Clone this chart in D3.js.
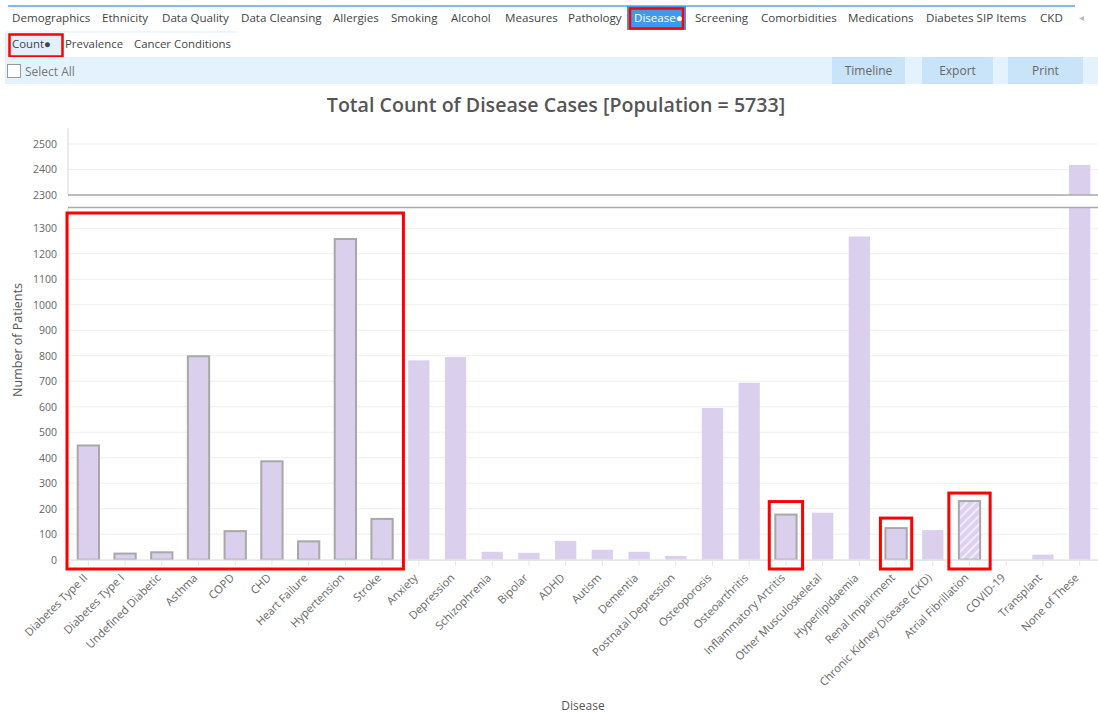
<!DOCTYPE html>
<html><head><meta charset="utf-8">
<script src="https://cdn.jsdelivr.net/npm/d3@7"></script>
<style>
html,body{margin:0;padding:0;background:#fff;}
svg{display:block;font-family:"Open Sans",sans-serif;}
</style></head><body>
<svg id="c" width="1098" height="713"></svg>
<script>
// ---- data ----
const categories = ["Diabetes Type II","Diabetes Type I","Undefined Diabetic","Asthma","COPD","CHD","Heart Failure","Hypertension","Stroke","Anxiety","Depression","Schizophrenia","Bipolar","ADHD","Autism","Dementia","Postnatal Depression","Osteoporosis","Osteoarthritis","Inflammatory Artritis","Other Musculoskeletal","Hyperlipidaemia","Renal Impairment","Chronic Kidney Disease (CKD)","Atrial Fibrillation","COVID-19","Transplant","None of These"];
const counts = [448,24,29,798,112,386,72,1258,160,782,795,31,27,74,39,31,15,595,694,177,184,1268,124,116,230,0,20,2418];
const outlined = ["Diabetes Type II","Diabetes Type I","Undefined Diabetic","Asthma","COPD","CHD","Heart Failure","Hypertension","Stroke","Inflammatory Artritis","Renal Impairment","Atrial Fibrillation"];
const hatched = ["Atrial Fibrillation"];
const lowerTicks = [0,100,200,300,400,500,600,700,800,900,1000,1100,1200,1300];
const upperTicks = [2300,2400,2500];
const lowerDomain = [0,1380];
const upperDomain = [2300,2562];
const navItems = ["Demographics","Ethnicity","Data Quality","Data Cleansing","Allergies","Smoking","Alcohol","Measures","Pathology","Disease●","Screening","Comorbidities","Medications","Diabetes SIP Items","CKD"];
const subItems = ["Count●","Prevalence","Cancer Conditions"];
const buttons = ["Timeline","Export","Print"];
const title = "Total Count of Disease Cases [Population = 5733]";
const annotGroups = [["Diabetes Type II","Stroke"],["Inflammatory Artritis"],["Renal Impairment"],["Atrial Fibrillation"]];

const svg = d3.select("#c");
const defs = svg.append("defs");
const pat = defs.append("pattern").attr("id","hatch").attr("patternUnits","userSpaceOnUse")
  .attr("width",6).attr("height",6).attr("patternTransform","rotate(45)");
pat.append("rect").attr("width",6).attr("height",6).attr("fill","#dcd2ef");
pat.append("line").attr("x1",1).attr("x2",1).attr("y1",0).attr("y2",6).attr("stroke","#f1edf9").attr("stroke-width",2);

// ---- nav ----
svg.append("line").attr("x1",8).attr("x2",1075).attr("y1",6).attr("y2",6).attr("stroke","#4ea8f5").attr("stroke-width",1.5);
const navX = [12,102,162,241,333,391,451,505,568,634,695,761,848,926,1040];
navItems.forEach((t,i)=>{
  if(t==="Disease●"){
    svg.append("rect").attr("x",627).attr("y",6).attr("width",59).attr("height",24).attr("fill","#3d9bef");
    svg.append("rect").attr("x",630).attr("y",8.5).attr("width",53).attr("height",20).attr("fill","none").attr("stroke","#ff0000").attr("stroke-width",2.5);
  }
  svg.append("text").attr("x",navX[i]).attr("y",22).attr("font-size",11.6).attr("fill",t==="Disease●"?"#fff":"#444").text(t);
});
svg.append("text").attr("x",1079).attr("y",21).attr("font-size",10).attr("fill","#bbb").text("◂");
// sub row
svg.append("rect").attr("x",5).attr("y",31).attr("width",232).attr("height",2).attr("fill","#eef6fd");
svg.append("rect").attr("x",5).attr("y",33).attr("width",58).attr("height",24).attr("fill","#e1f0fc");
const subX=[12,65,134];
subItems.forEach((t,i)=>svg.append("text").attr("x",subX[i]).attr("y",48).attr("font-size",11.4).attr("fill","#444").text(t));
svg.append("rect").attr("x",9.5).attr("y",34.5).attr("width",53).attr("height",22).attr("fill","none").attr("stroke","#ff0000").attr("stroke-width",2.5);
// toolbar
svg.append("rect").attr("x",5).attr("y",57).attr("width",1093).attr("height",27).attr("fill","#e3f2fd");
svg.append("rect").attr("x",7.5).attr("y",64.5).attr("width",13).attr("height",13).attr("fill","#fff").attr("stroke","#999");
svg.append("text").attr("x",25).attr("y",76).attr("font-size",12).attr("fill","#777").text("Select All");
const bx=[[832,73],[922,71],[1008,75]];
buttons.forEach((t,i)=>{
  svg.append("rect").attr("x",bx[i][0]).attr("y",57).attr("width",bx[i][1]).attr("height",27).attr("fill","#c9e4f8");
  svg.append("text").attr("x",bx[i][0]+bx[i][1]/2).attr("y",75).attr("text-anchor","middle").attr("font-size",12).attr("fill","#666").text(t);
});

// ---- chart ----
const x = d3.scaleBand().domain(categories).range([70,1098]).paddingInner(0.42).paddingOuter(0.21);
const yL = d3.scaleLinear().domain(lowerDomain).range([559.7,207.9]);
const yU = d3.scaleLinear().domain(upperDomain).range([195,128.2]);
const left = 68, right = 1098;

svg.append("text").attr("x",556).attr("y",112).attr("text-anchor","middle").attr("font-size",19.6)
  .attr("font-weight",600).attr("fill","#555").text(title);

// grids
const grid = svg.append("g");
lowerTicks.forEach(v=>grid.append("line").attr("x1",left).attr("x2",right).attr("y1",yL(v)).attr("y2",yL(v)).attr("stroke","#efefef"));
upperTicks.forEach(v=>grid.append("line").attr("x1",left).attr("x2",right).attr("y1",yU(v)).attr("y2",yU(v)).attr("stroke","#efefef"));
// y axis lines
svg.append("line").attr("x1",left).attr("x2",left).attr("y1",yU(upperDomain[1])).attr("y2",yU(upperDomain[0])).attr("stroke","#e4e4e4").attr("stroke-width",1.5);
svg.append("line").attr("x1",left).attr("x2",left).attr("y1",yL(lowerDomain[1])).attr("y2",yL(0)).attr("stroke","#e4e4e4").attr("stroke-width",1.5);

const fmt = d3.format("d");
const axL = d3.axisLeft(yL).tickValues(lowerTicks).tickFormat(fmt).tickSize(0).tickPadding(11);
const axU = d3.axisLeft(yU).tickValues(upperTicks).tickFormat(fmt).tickSize(0).tickPadding(11);
[axL,axU].forEach(a=>{
  const g = svg.append("g").attr("transform",`translate(${left},0)`).call(a);
  g.select(".domain").remove();
  g.selectAll("text").attr("font-size",10.5).attr("fill","#666").attr("font-family","Open Sans");
});

// bars
const barsL = svg.append("g");
categories.forEach((c,i)=>{
  const v = counts[i];
  const isO = outlined.includes(c), isH = hatched.includes(c);
  const fill = isH ? "url(#hatch)" : "#dad0ee";
  if (v <= lowerDomain[1]) {
    barsL.append("rect").attr("x",x(c)).attr("width",x.bandwidth()).attr("y",yL(v)).attr("height",yL(0)-yL(v))
      .attr("fill",fill).attr("stroke",isO?"#a8a8a8":"none").attr("stroke-width",2);
  } else {
    barsL.append("rect").attr("x",x(c)).attr("width",x.bandwidth()).attr("y",yL(lowerDomain[1])).attr("height",yL(0)-yL(lowerDomain[1])).attr("fill",fill);
    barsL.append("rect").attr("x",x(c)).attr("width",x.bandwidth()).attr("y",yU(v)).attr("height",yU(upperDomain[0])-yU(v)).attr("fill",fill);
  }
});
// break lines
svg.append("line").attr("x1",left).attr("x2",right).attr("y1",yU(upperDomain[0])).attr("y2",yU(upperDomain[0])).attr("stroke","#aaa").attr("stroke-width",1.5);
svg.append("line").attr("x1",left).attr("x2",right).attr("y1",yL(lowerDomain[1])-0.5).attr("y2",yL(lowerDomain[1])-0.5).attr("stroke","#aaa").attr("stroke-width",1.5);

// x axis
const gx = svg.append("g").attr("transform",`translate(0,${yL(0)})`).call(d3.axisBottom(x).tickSize(6).tickSizeOuter(0));
gx.select(".domain").attr("stroke","#e6e6e6").attr("stroke-width",1.5);
gx.selectAll(".tick line").attr("stroke","#e6e6e6");
gx.selectAll("text").attr("font-size",11.2).attr("fill","#666").attr("font-family","Open Sans")
  .attr("text-anchor","end").attr("x",0).attr("y",0).attr("dy","0.35em").attr("transform","translate(-3,16) rotate(-45)");

svg.append("text").attr("transform","translate(22,340) rotate(-90)").attr("text-anchor","middle").attr("font-size",12.5).attr("fill","#555").text("Number of Patients");
svg.append("text").attr("x",583).attr("y",710).attr("text-anchor","middle").attr("font-size",12).attr("fill","#555").text("Disease");

// red annotation boxes
const step = x.step();
const ann = svg.append("g").attr("fill","none").attr("stroke","#ff0000").attr("stroke-width",3);
{
  const [a,b] = annotGroups[0];
  const x0 = x(a) - x.paddingOuter()*step - 3, x1 = x(b) + x.bandwidth() + (step-x.bandwidth())/2 + 3;
  ann.append("rect").attr("x",x0).attr("y",yL(1360)).attr("width",x1-x0).attr("height",569-yL(1360));
}
const padsX=[6,5,10], padsT=[13,10,8];
annotGroups.slice(1).forEach(([c],k)=>{
  const v = counts[categories.indexOf(c)];
  const x0 = x(c)-padsX[k], x1 = x(c)+x.bandwidth()+padsX[k];
  const y0 = yL(v)-padsT[k];
  ann.append("rect").attr("x",x0).attr("y",y0).attr("width",x1-x0).attr("height",569-y0);
});
</script></body></html>
